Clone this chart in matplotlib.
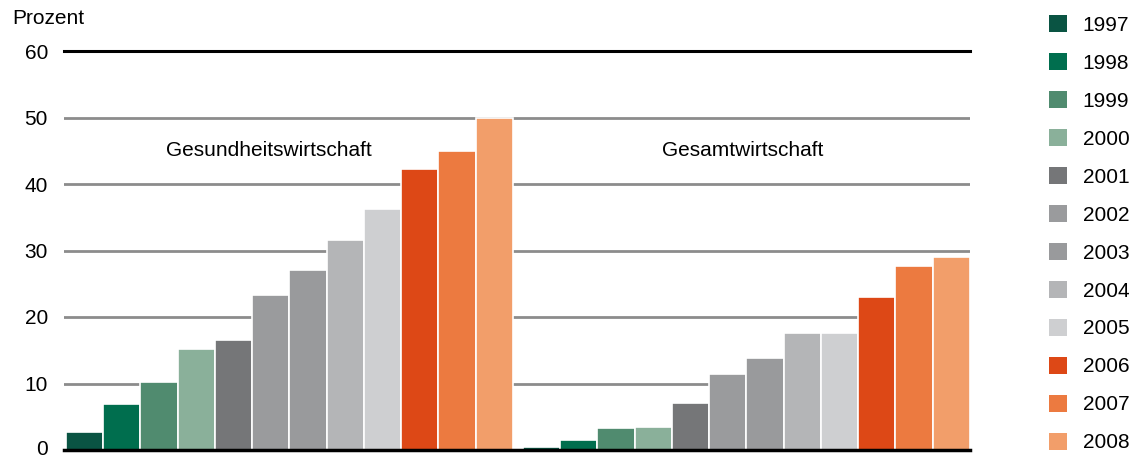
import numpy as np
import matplotlib.pyplot as plt
import matplotlib.transforms as mtrans
from matplotlib.patches import Patch

plt.rcParams['font.family'] = ['Liberation Sans', 'DejaVu Sans']

years = ['1997', '1998', '1999', '2000', '2001', '2002', '2003', '2004', '2005', '2006', '2007', '2008']
gesundheit = [2.7, 6.9, 10.3, 15.2, 16.5, 23.3, 27.0, 31.6, 36.2, 42.3, 44.9, 50.0]
gesamt = [0.45, 1.5, 3.3, 3.5, 7.0, 11.5, 13.9, 17.6, 17.6, 23.0, 27.6, 29.0]
colors = ['#0a5443', '#006e4e', '#508b6f', '#8ab09a', '#757678', '#9a9b9d',
          '#999a9c', '#b4b5b7', '#cecfd1', '#dd4816', '#ec7a40', '#f29e6a']
group_labels = ['Gesundheitswirtschaft', 'Gesamtwirtschaft']

fig = plt.figure(figsize=(11.37, 4.57), dpi=100)
ax = fig.add_axes([64/1137, 1-450/457, (970-64)/1137, (450-51)/457])

n = len(years)
x_left = np.arange(n)
x_right = np.arange(n) + n + 0.27

# gridlines behind bars
for v in [10, 20, 30, 40, 50]:
    ax.axhline(v, color='#8c8c8c', lw=2, zorder=1)
ax.axhline(60, color='black', lw=2.2, zorder=1, clip_on=False)

ax.bar(x_left, gesundheit, width=1.0, color=colors, edgecolor='white', linewidth=1.2, zorder=2)
ax.bar(x_right, gesamt, width=1.0, color=colors, edgecolor='white', linewidth=1.2, zorder=2)
ax.axhline(0, color='black', lw=2.5, zorder=3, clip_on=False)

ax.text((x_left[0] + x_left[-1]) / 2 - 0.55, 45.1, group_labels[0], ha='center', va='center', fontsize=15)
ax.text((x_right[0] + x_right[-1]) / 2 - 0.1, 45.1, group_labels[1], ha='center', va='center', fontsize=15)

ax.set_xlim(-0.55, x_right[-1] + 0.5)
ax.set_ylim(0, 60)
ax.set_yticks(range(0, 61, 10))
ax.set_xticks([])
ax.tick_params(axis='y', length=0, pad=11.5, labelsize=15)
for s in ax.spines.values():
    s.set_visible(False)

# nudge the "0" label up so it is not clipped at the bottom edge
lab0 = ax.get_yticklabels()[0]
lab0.set_transform(lab0.get_transform() + mtrans.ScaledTranslation(0, 2/72, fig.dpi_scale_trans))

fig.text(12/1137, 1-18/457, 'Prozent', ha='left', va='center', fontsize=15)

handles = [Patch(facecolor=c, edgecolor='none') for c in colors]
fig.legend(handles, years, loc='upper left', bbox_to_anchor=(1049/1137, 1-15/457),
           frameon=False, fontsize=15, handlelength=0.87, handleheight=0.87,
           labelspacing=0.88, handletextpad=0.75, borderaxespad=0, borderpad=0)

fig.savefig('out.png', dpi=100)
